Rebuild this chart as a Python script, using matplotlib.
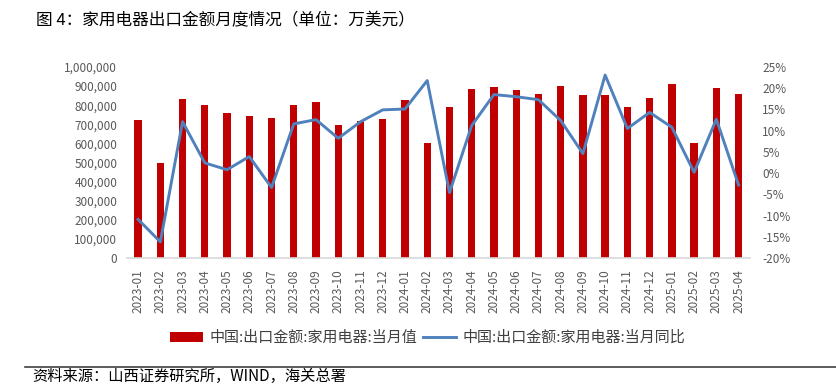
import matplotlib.pyplot as plt
from matplotlib.ticker import FuncFormatter

plt.rcParams['font.family'] = ['Noto Sans CJK SC', 'DejaVu Sans']

# Data
months = ['2023-01', '2023-02', '2023-03', '2023-04', '2023-05', '2023-06', '2023-07',
          '2023-08', '2023-09', '2023-10', '2023-11', '2023-12', '2024-01', '2024-02',
          '2024-03', '2024-04', '2024-05', '2024-06', '2024-07', '2024-08', '2024-09',
          '2024-10', '2024-11', '2024-12', '2025-01', '2025-02', '2025-03', '2025-04']
export_value = [720000, 500000, 832000, 801000, 759000, 743000, 733000,
                801000, 817000, 694000, 717000, 730000, 825000, 604000,
                791000, 887000, 897000, 878000, 860000, 899000, 852000,
                855000, 792000, 836000, 913000, 604000, 890000, 860000]
yoy_pct = [-10.9, -16.2, 12.1, 2.4, 0.8, 3.9, -3.4,
           11.6, 12.6, 8.2, 12.1, 14.9, 15.1, 21.8,
           -4.6, 11.2, 18.5, 18.0, 17.3, 12.4, 4.6,
           23.1, 10.5, 14.3, 10.8, 0.2, 12.7, -2.8]

bar_label = '中国:出口金额:家用电器:当月值'
line_label = '中国:出口金额:家用电器:当月同比'
title = '图 4：家用电器出口金额月度情况（单位：万美元）'
source = '资料来源：山西证券研究所，WIND，海关总署'

grey = '#595959'
fig = plt.figure(figsize=(8.37, 3.87), dpi=100)
ax = fig.add_axes([0.1517, 0.3333, 0.744, 0.4936])
ax2 = ax.twinx()

x = list(range(len(months)))
bars = ax.bar(x, export_value, width=0.33, color='#C00000', label=bar_label, zorder=2)
line, = ax2.plot(x, yoy_pct, color='#4F81BD', linewidth=2.1, label=line_label, zorder=3)

ax.set_xlim(-0.5, len(months) - 0.5)
ax.set_ylim(0, 1000000)
ax.set_yticks(range(0, 1000001, 100000))
ax.yaxis.set_major_formatter(FuncFormatter(lambda v, p: f'{int(v):,}'))
ax2.set_ylim(-20, 25)
ax2.set_yticks(range(-20, 26, 5))
ax2.yaxis.set_major_formatter(FuncFormatter(lambda v, p: f'{int(v)}%'))

ax.set_xticks(x)
ax.set_xticklabels(months, rotation=90)

for a in (ax, ax2):
    for s in a.spines.values():
        s.set_visible(False)
ax.spines['bottom'].set_visible(True)
ax.spines['bottom'].set_color('#D9D9D9')
ax.spines['bottom'].set_linewidth(1.2)

ax.tick_params(axis='y', length=0, pad=7, labelsize=8.5, labelcolor=grey)
ax.tick_params(axis='x', length=0, pad=8, labelsize=8.5, labelcolor=grey)
ax2.tick_params(axis='y', length=0, pad=9, labelsize=8.5, labelcolor=grey)

fig.legend([bars, line], [bar_label, line_label], loc='center', bbox_to_anchor=(0.511, 0.127),
           ncol=2, frameon=False, fontsize=10.8, handlelength=2.2, handleheight=0.7,
           handletextpad=0.4, columnspacing=0.4, labelcolor='#404040')

fig.text(36 / 837, 1 - 21 / 387, title, fontsize=12, va='center', ha='left', color='black')
fig.add_artist(plt.Line2D([25 / 837, 1.0], [1 - 367 / 387, 1 - 367 / 387],
                          color='#404040', linewidth=1.2))
fig.text(32 / 837, 2 / 387, source, fontsize=11, va='bottom', ha='left', color='black')

fig.savefig('out.png', dpi=100)
